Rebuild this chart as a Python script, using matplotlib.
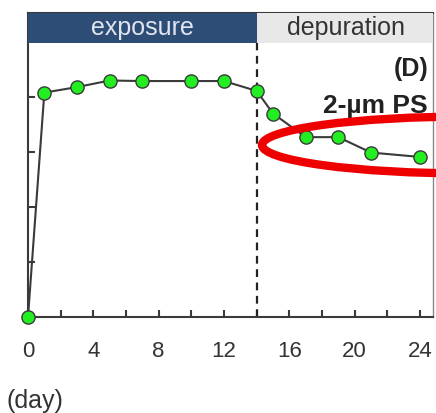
import numpy as np
import matplotlib
matplotlib.use('Agg')
import matplotlib.pyplot as plt
from matplotlib.patches import Rectangle, Ellipse
import matplotlib.transforms as mtransforms

plt.rcParams['font.family'] = ['Liberation Sans', 'DejaVu Sans']

# data (arbitrary units, one y tick = 1)
days = [0, 1, 3, 5, 7, 10, 12, 14, 15, 17, 19, 21, 24]
conc = [0.0, 4.08, 4.18, 4.30, 4.29, 4.29, 4.29, 4.11, 3.70, 3.27, 3.27, 2.99, 2.91]
x_ticks = [0, 4, 8, 12, 16, 20, 24]
end_exposure = 14

W, H = 436, 413
px_day = 16.333
x_max = (433 - 28) / px_day
fig = plt.figure(figsize=(W / 100, H / 100), dpi=100)
ax = fig.add_axes([28 / W, (H - 317) / H, x_max * px_day / W, 304 / H])

ax.set_xlim(0, x_max)
ax.set_ylim(0, 304 / 55)

dark = '#3a3a3a'
ax.plot(days, conc, '-', color=dark, lw=1.5, marker='o', ms=9.5,
        mfc='#22ee22', mec='#3a3a3a', mew=1.0, zorder=5, clip_on=False)

# header band
tr = mtransforms.blended_transform_factory(ax.transData, ax.transAxes)
band_lo = (317 - 43) / 304
ax.add_patch(Rectangle((0, band_lo), end_exposure, 1 - band_lo, transform=tr,
                       facecolor='#2d4d77', edgecolor='none', zorder=3))
ax.add_patch(Rectangle((end_exposure, band_lo), x_max - end_exposure, 1 - band_lo,
                       transform=tr, facecolor='#e8e8e8', edgecolor='none', zorder=3))
ax.text(7, (1 + band_lo) / 2, 'exposure', transform=tr, ha='center', va='center',
        color='#dfe6ef', fontsize=18, zorder=4)
ax.text(19.5, (1 + band_lo) / 2, 'depuration', transform=tr, ha='center', va='center',
        color='#333333', fontsize=18, zorder=4)

ax.plot([end_exposure, end_exposure], [0, band_lo], transform=tr, color='#222222',
        lw=1.6, ls=(0, (3.5, 2.5)), zorder=2)

ax.text(428 / W, (H - 69) / H, '(D)', transform=fig.transFigure, ha='right', va='center',
        fontsize=18, fontweight='bold', color='#222222')
ax.text(428 / W, (H - 113) / H, '2-\u00b5m PS', transform=fig.transFigure, ha='right',
        va='baseline', fontsize=19, fontweight='bold', color='#222222')

# red highlight ellipse
ax.add_patch(Ellipse(((470 - 28) / px_day, (317 - 145) / 55), 2 * 208 / px_day, 57 / 55,
                     facecolor='none', edgecolor='#ee0000', lw=6, zorder=6, clip_on=False))

for s in ['left', 'bottom', 'top']:
    ax.spines[s].set_color(dark)
    ax.spines[s].set_linewidth(1.5)
ax.spines['right'].set_color('#888888')
ax.spines['right'].set_linewidth(1.0)

ax.set_xticks(x_ticks)
ax.set_xticks(np.arange(0, 25, 2), minor=True)
ax.set_yticks([0, 1, 2, 3, 4])
ax.set_yticklabels([])
ax.tick_params(axis='both', which='both', direction='in', length=5, width=1.5,
               color=dark, labelsize=16, labelcolor='#333333', pad=17)

fig.text(7 / W, (H - 401) / H, '(day)', fontsize=18, color='#333333', ha='left', va='center')

fig.savefig('out.png', dpi=100)
